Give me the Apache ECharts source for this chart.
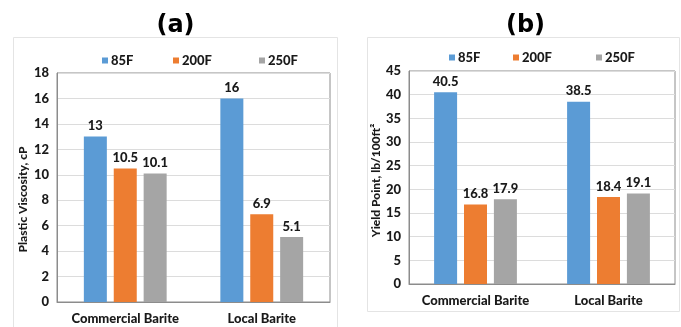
<!DOCTYPE html>
<html>
<head>
<meta charset="utf-8">
<script src="https://cdn.jsdelivr.net/npm/echarts@6/dist/echarts.min.js"></script>
<style>
html,body{margin:0;padding:0;background:#fff;}
#c{width:681px;height:327px;}
</style>
</head>
<body>
<div id="c"></div>
<script>
const categories = ['Commercial Barite', 'Local Barite'];
const seriesNames = ['85F', '200F', '250F'];
const pvValues = {
  '85F': [13, 16],
  '200F': [10.5, 6.9],
  '250F': [10.1, 5.1]
};
const ypValues = {
  '85F': [40.5, 38.5],
  '200F': [16.8, 18.4],
  '250F': [17.9, 19.1]
};
const pvTicks = [0, 18, 2];
const ypTicks = [0, 45, 5];
const titles = ['(a)', '(b)'];
const yNames = ['Plastic Viscosity, cP', 'Yield Point, lb/100ft\u00b2'];
const colors = ['#5B9BD5', '#ED7D31', '#A5A5A5'];

const FONT = 'Lato, "DejaVu Sans Condensed", sans-serif';
const txt = {fontFamily: FONT, fontWeight: 900, fontSize: 12, color: '#1a1a1a'};

const chart = echarts.init(document.getElementById('c'), null, {renderer: 'canvas'});

function makeSeries(values, idx) {
  return seriesNames.map((n, i) => ({
    name: n,
    type: 'bar',
    xAxisIndex: idx,
    yAxisIndex: idx,
    data: values[n],
    barWidth: 23,
    barGap: '30%',
    itemStyle: {color: colors[i]},
    label: {show: true, position: 'top', distance: 4, ...txt, fontSize: 13},
    emphasis: {disabled: true}
  }));
}

function legendItem(name, i, left, top) {
  return {
    data: [name], left: left, top: top, itemWidth: 6, itemHeight: 6, itemGap: 4,
    icon: 'rect', textStyle: {...txt, fontSize: 13, padding: [0,0,0,-2]},
    selectedMode: false
  };
}

const option = {
  backgroundColor: '#fff',
  animation: false,
  color: colors,
  graphic: [
    {type: 'rect', shape: {x: 13.5, y: 37.5, width: 324, height: 300}, style: {fill: 'none', stroke: '#e4e4e4', lineWidth: 1}, z: -1},
    {type: 'rect', shape: {x: 367.5, y: 37.5, width: 312, height: 274}, style: {fill: 'none', stroke: '#e4e4e4', lineWidth: 1}, z: -1},
    {type: 'text', x: 175.5, y: 26, style: {text: titles[0], align: 'center', verticalAlign: 'middle', fontFamily: 'DejaVu Sans', fontWeight: 'bold', fontSize: 24, fill: '#000'}},
    {type: 'text', x: 525.5, y: 26, style: {text: titles[1], align: 'center', verticalAlign: 'middle', fontFamily: 'DejaVu Sans', fontWeight: 'bold', fontSize: 24, fill: '#000'}}
  ],
  legend: [
    legendItem('85F', 0, 97, 49),
    legendItem('200F', 1, 168, 49),
    legendItem('250F', 2, 254, 49),
    legendItem('85F', 0, 444, 46),
    legendItem('200F', 1, 508, 46),
    legendItem('250F', 2, 591, 46)
  ],
  grid: [
    {left: 57, top: 73, right: 351, bottom: 25, show: true, borderColor: '#8c8c8c', borderWidth: 1, containLabel: false},
    {left: 409, top: 71, right: 6, bottom: 43, show: true, borderColor: '#8c8c8c', borderWidth: 1, containLabel: false}
  ],
  xAxis: [0, 1].map(i => ({
    type: 'category', gridIndex: i, data: categories,
    axisTick: {show: false}, axisLine: {show: true, lineStyle: {color: '#8c8c8c'}},
    axisLabel: {...txt, fontSize: 13, margin: 10, interval: 0}
  })),
  yAxis: [pvTicks, ypTicks].map((t, i) => ({
    type: 'value', gridIndex: i, min: t[0], max: t[1], interval: t[2],
    name: yNames[i], nameLocation: 'middle', nameRotate: 90, nameGap: i === 0 ? 28 : 25,
    nameTextStyle: {...txt, fontSize: 12, padding: i === 0 ? [0, 24, 0, 0] : [0, 6, 0, 0]},
    axisLine: {show: true, lineStyle: {color: '#8c8c8c'}}, axisTick: {show: false},
    splitLine: {show: true, lineStyle: {color: '#dcdcdc'}},
    axisLabel: {...txt, fontSize: 13, margin: 8}
  })),
  series: [...makeSeries(pvValues, 0), ...makeSeries(ypValues, 1)]
};
chart.setOption(option);
</script>
</body>
</html>
